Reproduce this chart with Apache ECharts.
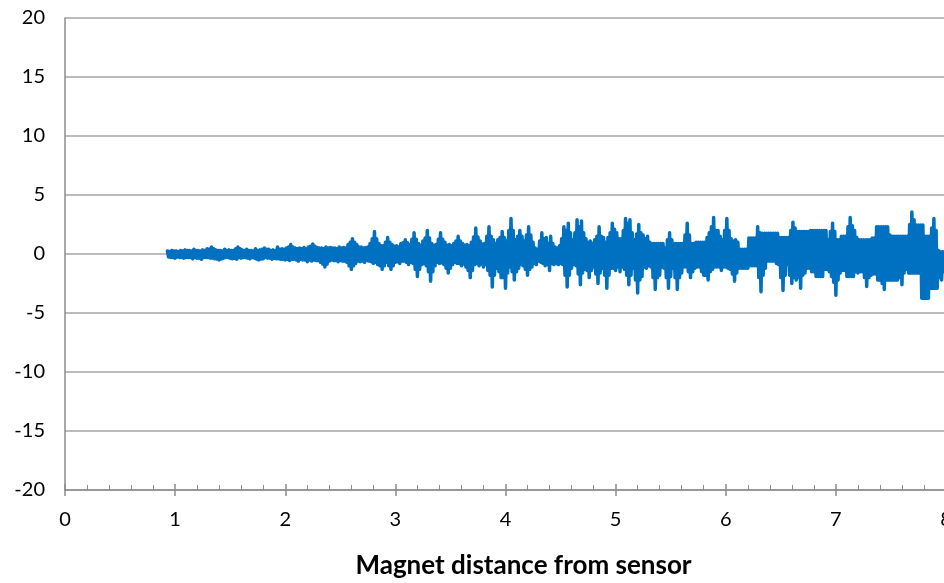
<!doctype html>
<html lang="en">
  <head>
    <meta charset="UTF-8" />
    <title>Magnet distance from sensor</title>
    <style>
      html,
      body {
        width: 100%;
        height: 100%;
        margin: 0;
        padding: 0;
        background: #fff;
      }
      #Echart {
        width: 944px;
        height: 583px;
      }
    </style>
  </head>

  <body>
    <div id="Echart"></div>
    <script type="text/javascript" src="https://cdn.jsdelivr.net/npm/echarts@6/dist/echarts.min.js"></script>
    <script type="text/javascript">
      // readings start at distance 0.93, one group of four readings every 0.04
      const distStart = 0.93
      const groupStep = 0.04

      // spike tops (rows of 1.0 distance)
      const swingHigh = [
        0.25, 0.3, 0.25, 0.3, 0.35, 0.3, 0.4, 0.3, 0.35, 0.45, 0.6, 0.35, 0.3, 0.4, 0.35, 0.3, 0.6, 0.35, 0.4, 0.3, 0.45, 0.35, 0.5, 0.4, 0.35,
        0.6, 0.45, 0.5, 0.8, 0.5, 0.5, 0.55, 0.6, 0.85, 0.55, 0.5, 0.6, 0.55, 0.5, 0.6, 0.55, 0.8, 1.3, 0.8, 0.6, 0.55, 0.9, 1.9, 0.9, 0.7,
        1.4, 0.8, 0.7, 0.9, 1.2, 0.8, 1.8, 0.9, 1.1, 2.0, 0.9, 0.8, 1.8, 1.0, 0.8, 0.9, 1.5, 0.9, 0.8, 1.0, 2.2, 1.1, 0.9, 2.3, 1.2,
        1.2, 1.9, 1.1, 3.0, 1.2, 2.0, 1.1, 2.3, 1.0, 0.4, 1.8, 1.4, 1.5, 0.6, 0.7, 2.3, 2.6, 1.2, 2.9, 2.8, 1.3, 1.1, 1.2, 2.3, 1.4,
        1.4, 2.6, 1.8, 1.3, 3.0, 2.9, 1.2, 2.5, 1.6, 1.5, 0.9, 0.9, 0.9, 0.5, 1.8, 0.9, 0.9, 0.9, 2.6, 0.9, 1.0, 1.0, 1.0, 1.8, 3.1,
        2.0, 1.2, 3.0, 1.3, 1.2, 0.4, 0.4, 1.35, 1.35, 2.3, 1.75, 1.75, 1.75, 1.75, 1.4, 1.4, 1.4, 2.7, 1.9, 1.9, 1.9, 2.0, 2.0, 2.0, 2.0,
        1.2, 2.6, 1.2, 1.5, 1.5, 3.1, 2.0, 1.2, 1.2, 1.2, 1.35, 2.3, 2.3, 2.3, 1.6, 1.5, 1.5, 1.5, 1.5, 3.55, 2.45, 2.45, 1.5, 1.5, 3.0,
        0.3, 0.2,
      ]

      // spike bottoms
      const swingLow = [
        -0.3, -0.35, -0.3, -0.35, -0.3, -0.4, -0.35, -0.45, -0.3, -0.35, -0.4, -0.5, -0.35, -0.3, -0.4, -0.45, -0.35, -0.3, -0.4, -0.35, -0.5, -0.4, -0.35, -0.45, -0.4,
        -0.45, -0.5, -0.55, -0.45, -0.6, -0.5, -0.65, -0.6, -0.55, -0.7, -1.1, -0.6, -0.55, -0.65, -0.6, -0.7, -1.3, -0.8, -0.65, -0.7, -0.6, -0.8, -0.9, -1.3, -0.7,
        -1.3, -0.7, -0.8, -0.6, -0.9, -0.8, -1.9, -0.9, -1.0, -2.3, -1.0, -0.8, -0.9, -1.6, -0.9, -0.8, -1.0, -1.1, -2.0, -0.9, -1.0, -1.1, -1.4, -2.8, -1.2,
        -2.0, -2.9, -1.1, -2.2, -1.2, -1.0, -1.8, -1.1, -0.9, -0.7, -1.0, -1.4, -0.9, -0.9, -0.9, -2.8, -1.2, -1.0, -2.6, -1.3, -2.0, -1.1, -2.5, -1.2, -2.9,
        -1.2, -1.4, -1.5, -1.3, -2.6, -1.2, -3.3, -1.9, -1.2, -1.1, -3.0, -1.8, -1.2, -2.9, -1.2, -3.0, -1.6, -1.1, -2.0, -1.2, -1.1, -1.8, -2.2, -1.3, -1.1,
        -1.4, -1.1, -1.3, -2.3, -1.2, -1.2, -1.2, -1.0, -1.0, -3.2, -1.2, -0.6, -0.6, -0.9, -3.1, -0.9, -2.5, -2.2, -2.9, -1.6, -1.2, -1.5, -1.9, -1.9, -1.3,
        -1.9, -3.5, -1.6, -1.4, -1.9, -1.9, -1.6, -1.5, -2.75, -1.8, -1.7, -2.2, -3.0, -2.2, -2.2, -2.2, -2.6, -1.3, -1.6, -1.6, -1.6, -3.75, -3.75, -2.9, -2.9,
        -2.2, -2.0,
      ]

      // readings between the spikes: top edge of the solid band
      const coreHigh = [
        0.2, 0.25, 0.2, 0.25, 0.3, 0.25, 0.3, 0.25, 0.3, 0.4, 0.45, 0.3, 0.25, 0.3, 0.3, 0.45, 0.45, 0.3, 0.3, 0.25, 0.3, 0.4, 0.4, 0.3, 0.3,
        0.4, 0.4, 0.6, 0.6, 0.45, 0.45, 0.45, 0.65, 0.65, 0.5, 0.45, 0.5, 0.5, 0.45, 0.5, 0.5, 1.0, 1.0, 0.6, 0.5, 0.6, 1.3, 1.3, 0.7, 1.0,
        1.0, 0.65, 0.6, 0.95, 0.95, 1.25, 1.25, 0.75, 1.35, 1.35, 0.75, 1.25, 1.25, 0.75, 0.7, 1.1, 1.1, 0.75, 0.7, 1.45, 1.45, 0.85, 1.5, 1.5, 0.9,
        1.4, 1.4, 2.0, 2.0, 1.5, 1.5, 1.6, 1.6, 0.5, 1.1, 1.3, 0.9, 0.9, 0.5, 1.3, 2.0, 1.8, 1.8, 2.3, 1.8, 1.0, 0.9, 1.5, 1.5, 1.0,
        1.8, 2.1, 1.3, 2.0, 2.6, 1.8, 1.7, 1.8, 1.3, 1.0, 0.9, 0.9, 0.9, 1.2, 1.2, 0.9, 0.9, 1.6, 1.6, 0.9, 1.0, 1.0, 1.4, 2.3, 2.0,
        1.5, 2.0, 2.0, 1.1, 1.0, 0.4, 0.4, 1.35, 1.35, 1.8, 1.75, 1.75, 1.75, 1.75, 1.4, 1.4, 2.0, 2.2, 1.9, 1.9, 1.9, 2.0, 2.0, 2.0, 2.0,
        1.9, 1.9, 1.2, 1.5, 2.3, 2.4, 1.4, 1.2, 1.2, 1.2, 1.35, 2.3, 2.3, 2.3, 1.5, 1.5, 1.5, 1.5, 2.5, 2.9, 2.45, 2.45, 1.5, 2.2, 2.0,
        0.2, 0.1,
      ]

      // readings between the spikes: bottom edge of the solid band
      const coreLow = [
        -0.25, -0.3, -0.25, -0.3, -0.3, -0.3, -0.3, -0.35, -0.3, -0.3, -0.35, -0.42, -0.42, -0.3, -0.35, -0.35, -0.3, -0.3, -0.35, -0.3, -0.42, -0.42, -0.3, -0.35, -0.35,
        -0.4, -0.45, -0.45, -0.45, -0.5, -0.45, -0.5, -0.5, -0.5, -0.55, -0.85, -0.85, -0.5, -0.55, -0.55, -0.6, -1.0, -1.0, -0.6, -0.6, -0.55, -0.65, -0.7, -1.0, -1.0,
        -1.0, -1.0, -0.65, -0.6, -0.7, -0.7, -1.3, -1.3, -0.8, -1.5, -1.5, -0.7, -0.75, -1.2, -1.2, -0.7, -0.8, -0.85, -1.4, -1.4, -0.8, -0.85, -0.9, -1.8, -1.8,
        -1.5, -2.0, -1.6, -1.5, -1.5, -0.9, -1.3, -1.3, -0.8, -0.6, -0.8, -0.9, -0.8, -0.8, -0.8, -1.8, -1.8, -0.9, -1.7, -1.6, -1.4, -1.4, -1.7, -1.6, -1.8,
        -1.8, -1.2, -1.1, -1.1, -1.8, -1.8, -2.2, -2.2, -1.1, -1.0, -2.0, -2.0, -1.1, -2.0, -1.9, -2.0, -2.0, -1.1, -1.5, -1.5, -1.1, -1.5, -1.8, -1.5, -1.1,
        -1.1, -1.1, -1.2, -1.7, -1.6, -1.2, -1.2, -1.0, -1.0, -2.0, -1.8, -0.6, -0.6, -0.8, -2.0, -1.8, -1.8, -2.0, -2.0, -1.8, -1.2, -1.5, -1.9, -1.9, -1.3,
        -1.5, -2.4, -2.2, -1.4, -1.9, -1.9, -1.5, -1.5, -2.0, -2.0, -1.7, -2.2, -2.5, -2.2, -2.2, -2.2, -2.0, -1.6, -1.6, -1.6, -1.6, -3.75, -3.75, -2.9, -2.9,
        -2.0, -1.5,
      ]

      const xTicks = [0, 1, 2, 3, 4, 5, 6, 7, 8]
      const yTicks = [-20, -15, -10, -5, 0, 5, 10, 15, 20]

      let chart = null
      const fontName = 'Lato, "Open Sans", sans-serif'

      function buildPoints() {
        const pts = []
        const q = groupStep / 4
        for (let i = 0; i < swingHigh.length; i++) {
          const d = distStart + i * groupStep
          pts.push([+d.toFixed(3), swingHigh[i]])
          pts.push([+(d + q).toFixed(3), coreLow[i]])
          pts.push([+(d + 2 * q).toFixed(3), coreHigh[i]])
          pts.push([+(d + 3 * q).toFixed(3), swingLow[i]])
        }
        return pts
      }

      function initEchart() {
        const tickColor = '#8c8c8c'
        const option = {
          animation: false,
          backgroundColor: '#fff',
          grid: {
            left: 65,
            right: -2,
            top: 18,
            bottom: 93,
            containLabel: false,
            outerBoundsMode: 'none',
          },
          xAxis: [
            {
              type: 'value',
              min: xTicks[0],
              max: xTicks[xTicks.length - 1],
              interval: 1,
              name: 'Magnet distance from sensor',
              nameLocation: 'middle',
              nameGap: 63,
              nameTextStyle: {
                fontFamily: fontName,
                fontWeight: 'bold',
                fontSize: 26,
                color: '#000',
                padding: [0, 0, 0, 36],
              },
              axisLine: { onZero: false, lineStyle: { color: tickColor, width: 1.5 } },
              axisTick: { show: true, inside: true, length: 6, lineStyle: { color: tickColor, width: 1.5 } },
              minorTick: { show: true, splitNumber: 5, length: 5, lineStyle: { color: tickColor, width: 1 } },
              axisLabel: {
                margin: 20,
                fontFamily: fontName,
                fontSize: 20,
                color: '#000',
              },
              splitLine: { show: false },
            },
            {
              type: 'value',
              position: 'bottom',
              min: xTicks[0],
              max: xTicks[xTicks.length - 1],
              interval: 1,
              axisLine: { show: false, onZero: false },
              axisTick: { show: true, length: 6, lineStyle: { color: tickColor, width: 1.5 } },
              axisLabel: { show: false },
              splitLine: { show: false },
            },
          ],
          yAxis: {
            type: 'value',
            min: yTicks[0],
            max: yTicks[yTicks.length - 1],
            interval: 5,
            axisLine: { show: true, lineStyle: { color: tickColor, width: 1.5 } },
            axisTick: { show: false },
            axisLabel: {
              margin: 20,
              fontFamily: fontName,
              fontSize: 20,
              color: '#000',
            },
            splitLine: { show: true, lineStyle: { color: '#a6a6a6', width: 1.5 } },
          },
          series: [
            {
              type: 'line',
              xAxisIndex: 0,
              data: buildPoints(),
              showSymbol: false,
              sampling: 'none',
              lineStyle: { color: '#0070c0', width: 3.5, cap: 'round', join: 'round' },
              z: 5,
            },
          ],
        }
        chart = echarts.init(document.getElementById('Echart'))
        chart.setOption(option)
      }

      window.onload = function () {
        initEchart()
      }
    </script>
  </body>
</html>
